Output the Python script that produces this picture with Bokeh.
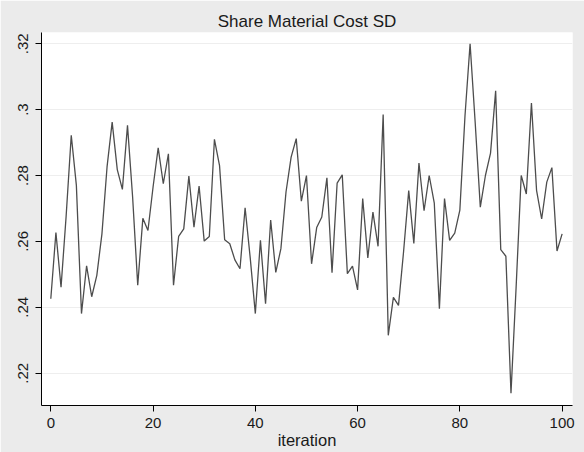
from bokeh.plotting import figure
from bokeh.models import FixedTicker, Range1d, ColumnDataSource
from bokeh.embed import file_html
from bokeh.resources import INLINE

iteration = list(range(101))
share_sd = [
    0.2426, 0.2627, 0.2461, 0.2677, 0.2922, 0.2770, 0.2381, 0.2526, 0.2432, 0.2497,
    0.2623, 0.2826, 0.2962, 0.2818, 0.2758, 0.2952, 0.2735, 0.2467, 0.2670, 0.2633,
    0.2765, 0.2884, 0.2775, 0.2866, 0.2467, 0.2615, 0.2638, 0.2798, 0.2643, 0.2768,
    0.2601, 0.2615, 0.2910, 0.2830, 0.2605, 0.2593, 0.2544, 0.2517, 0.2702, 0.2550,
    0.2381, 0.2603, 0.2411, 0.2665, 0.2506, 0.2578, 0.2750, 0.2856, 0.2912, 0.2722,
    0.2800, 0.2532, 0.2642, 0.2674, 0.2793, 0.2505, 0.2777, 0.2802, 0.2502, 0.2525,
    0.2453, 0.2730, 0.2550, 0.2689, 0.2585, 0.2985, 0.2315, 0.2430, 0.2406, 0.2570,
    0.2754, 0.2594, 0.2838, 0.2693, 0.2800, 0.2716, 0.2396, 0.2730, 0.2603, 0.2625,
    0.2695, 0.2980, 0.3200, 0.2960, 0.2704, 0.2800, 0.2868, 0.3057, 0.2575, 0.2555,
    0.2139, 0.2460, 0.2800, 0.2744, 0.3020, 0.2755, 0.2668, 0.2780, 0.2824, 0.2571,
    0.2623,
]
x_ticks = [0, 20, 40, 60, 80, 100]
y_ticks = [0.22, 0.24, 0.26, 0.28, 0.30, 0.32]
y_tick_labels = [".22", ".24", ".26", ".28", ".3", ".32"]
title_text = "Share Material Cost SD"
x_label = "iteration"

FONT = "Liberation Sans"
BG = "#ebebeb"

p = figure(width=584, height=452, output_backend="svg", toolbar_location=None,
           x_range=Range1d(-1.82, 102.03), y_range=Range1d(0.2102, 0.3234),
           min_border_left=41, min_border_right=12, min_border_top=32, min_border_bottom=47)

p.background_fill_color = "white"
p.border_fill_color = BG
p.outline_line_color = None

p.title.text = title_text
p.title.align = "center"
p.title.text_font = FONT
p.title.text_font_size = "17px"
p.title.text_font_style = "normal"
p.title.text_color = "#1a1a1a"
p.title.standoff = 3

src = ColumnDataSource(dict(x=iteration, y=share_sd))
p.line("x", "y", source=src, line_color="#4d4d4d", line_width=1.3)

# x axis
xa = p.xaxis[0]
xa.ticker = FixedTicker(ticks=x_ticks)
xa.minor_tick_line_color = None
xa.major_tick_in = 0
xa.major_tick_out = 6
xa.axis_line_color = "black"
xa.major_tick_line_color = "black"
xa.major_label_text_font = FONT
xa.major_label_text_font_size = "15px"
xa.major_label_text_color = "#1a1a1a"
xa.major_label_standoff = 6
xa.axis_label = x_label
xa.axis_label_text_font = FONT
xa.axis_label_text_font_size = "16.5px"
xa.axis_label_text_font_style = "normal"
xa.axis_label_text_color = "#1a1a1a"
xa.axis_label_standoff = 0

# y axis
ya = p.yaxis[0]
ya.ticker = FixedTicker(ticks=y_ticks)
ya.major_label_overrides = {t: l for t, l in zip(y_ticks, y_tick_labels)}
ya.major_label_orientation = "vertical"
ya.minor_tick_line_color = None
ya.major_tick_in = 0
ya.major_tick_out = 6
ya.axis_line_color = "black"
ya.major_tick_line_color = "black"
ya.major_label_text_font = FONT
ya.major_label_text_font_size = "15px"
ya.major_label_text_color = "#1a1a1a"
ya.major_label_standoff = 7

p.xgrid.grid_line_color = None
p.ygrid.grid_line_color = "#eeeeee"
p.ygrid.grid_line_width = 1.2

open("out.html", "w").write(file_html(p, INLINE))
